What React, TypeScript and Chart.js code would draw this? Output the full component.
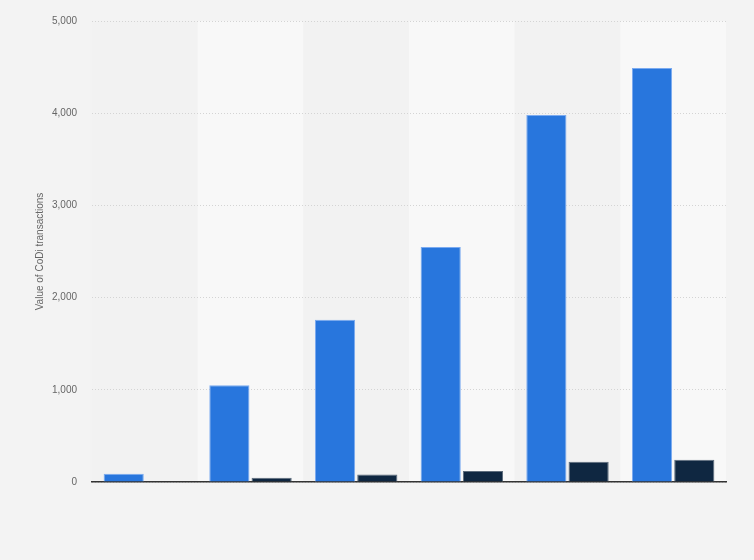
import { useEffect, useRef } from "react";
import { Chart, registerables } from "chart.js";

Chart.register(...registerables);

const categories = ["2019", "2020", "2021", "2022", "2023", "2024"];
const seriesA = [90, 1050, 1760, 2550, 3980, 4490];
const seriesB = [0, 45, 80, 120, 220, 242];
const yTicks = [0, 1000, 2000, 3000, 4000, 5000];

const bandPlugin = {
  id: "bands",
  beforeDraw(chart: Chart) {
    const { ctx, chartArea, scales } = chart;
    const x = scales.x;
    ctx.save();
    ctx.fillStyle = "#f3f3f3";
    ctx.fillRect(0, 0, chart.width, chart.height);
    categories.forEach((_, i) => {
      const c = x.getPixelForValue(i);
      const half = (chartArea.right - chartArea.left) / categories.length / 2;
      ctx.fillStyle = i % 2 === 1 ? "#f8f8f8" : "#f2f2f2";
      ctx.fillRect(c - half, chartArea.top, half * 2, chartArea.bottom - chartArea.top);
    });
    ctx.restore();
  },
};

export default function App() {
  const canvasRef = useRef<HTMLCanvasElement>(null);
  const chartRef = useRef<Chart | null>(null);

  useEffect(() => {
    document.body.style.margin = "0";
    if (!canvasRef.current) return;
    chartRef.current?.destroy();

    chartRef.current = new Chart(canvasRef.current, {
      type: "bar",
      data: {
        labels: categories,
        datasets: [
          {
            label: "A",
            data: seriesA,
            backgroundColor: "#2876dd",
            borderColor: "#7aaaf0",
            borderWidth: 1,
            categoryPercentage: 0.8,
            barPercentage: 0.95,
          },
          {
            label: "B",
            data: seriesB,
            backgroundColor: "#0f2741",
            borderColor: "#5d6c7c",
            borderWidth: 1,
            categoryPercentage: 0.8,
            barPercentage: 0.95,
          },
        ],
      },
      options: {
        responsive: false,
        animation: false,
        layout: { padding: { left: 0, right: 28, top: 14, bottom: 70 } },
        plugins: { legend: { display: false }, tooltip: { enabled: false } },
        scales: {
          x: {
            grid: { display: false },
            border: { display: true, color: "#333333", width: 1.5 },
            ticks: { display: false },
          },
          y: {
            min: 0,
            max: 5000,
            afterFit: (scale: any) => { scale.width = 92; },
            afterBuildTicks: (scale: any) => { scale.ticks = yTicks.map((v) => ({ value: v })); },
            grid: {
              color: "#d4d4d4",
              drawTicks: false,
              lineWidth: 1,
            },
            border: { display: false, dash: [1, 2] },
            ticks: {
              padding: 15,
              color: "#666666",
              font: { family: "Arial, 'Liberation Sans', sans-serif", size: 10 },
              callback: (v: any) => Number(v).toLocaleString("en-US"),
            },
            title: {
              display: true,
              text: "Value of CoDi transactions",
              color: "#666666",
              font: { family: "Arial, 'Liberation Sans', sans-serif", size: 10 },
              padding: { top: 34, bottom: 0 },
            },
          },
        },
      },
      plugins: [bandPlugin],
    });

    return () => { chartRef.current?.destroy(); };
  }, []);

  return <canvas ref={canvasRef} width={754} height={560} style={{ display: "block" }} />;
}
